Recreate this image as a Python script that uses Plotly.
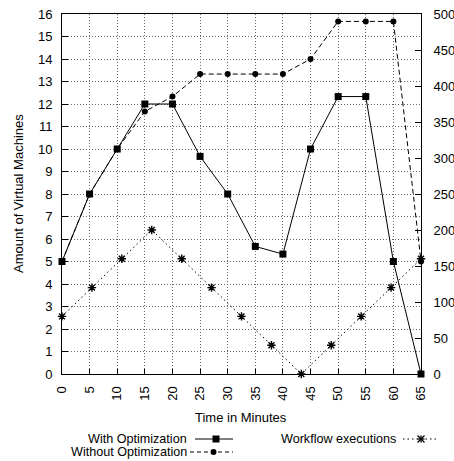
import plotly.graph_objects as go

# ---- data -------------------------------------------------------------
time_min = [0, 5, 10, 15, 20, 25, 30, 35, 40, 45, 50, 55, 60, 65]
vms_with_opt = [5, 8, 10, 12, 12, 9.67, 8, 5.67, 5.33, 10, 12.33, 12.33, 5, 0]
vms_without_opt = [5, 8, 10, 11.67, 12.33, 13.33, 13.33, 13.33, 13.33, 14,
                   15.67, 15.67, 15.67, 5]

workflow_time = [0, 5.42, 10.83, 16.25, 21.67, 27.08, 32.5, 37.92, 43.33,
                 48.75, 54.17, 59.58, 65]
workflow_execs = [80, 120, 160, 200, 160, 120, 80, 40, 0, 40, 80, 120, 160]

x_ticks = list(range(0, 70, 5))
y_ticks = list(range(0, 17))
y2_ticks = list(range(0, 550, 50))

# ---- geometry ---------------------------------------------------------
FIG_W, FIG_H = 454, 461
ML, MR, MT, MB = 62, 33, 14, 87
PW = FIG_W - ML - MR
PH = FIG_H - MT - MB

FONT = "Liberation Sans, Arial, Helvetica, sans-serif"


def px(x):
    return (x - ML) / PW


def py(y):
    return (FIG_H - MB - y) / PH


fig = go.Figure()

fig.add_trace(go.Scatter(
    x=time_min, y=vms_with_opt, name="With Optimization",
    mode="lines+markers", cliponaxis=False,
    line=dict(color="black", width=1),
    marker=dict(symbol="square", size=7, color="black"),
))
fig.add_trace(go.Scatter(
    x=time_min, y=vms_without_opt, name="Without Optimization",
    mode="lines+markers", cliponaxis=False,
    line=dict(color="black", width=1, dash="5px,3px"),
    marker=dict(symbol="circle", size=6, color="black"),
))
fig.add_trace(go.Scatter(
    x=workflow_time, y=workflow_execs, name="Workflow executions",
    yaxis="y2", mode="lines+markers", cliponaxis=False,
    line=dict(color="black", width=1, dash="1.5px,3px"),
    marker=dict(symbol="asterisk-open", size=7,
                line=dict(color="black", width=1.4)),
))

grid = dict(showgrid=True, gridcolor="#666", gridwidth=1, griddash="1px,2px")

fig.update_layout(
    width=FIG_W, height=FIG_H,
    margin=dict(l=ML, r=MR, t=MT, b=MB, autoexpand=False),
    paper_bgcolor="white", plot_bgcolor="white",
    font=dict(family=FONT, size=13, color="black"),
    showlegend=False,
    xaxis=dict(
        range=[0, 65], tickvals=x_ticks, ticktext=[str(v) for v in x_ticks],
        tickangle=-90, ticks="inside", ticklen=5, tickcolor="black",
        ticklabelstandoff=6,
        showline=True, linecolor="black", linewidth=1, mirror=True,
        zeroline=False, **grid,
    ),
    yaxis=dict(
        range=[0, 16], tickvals=y_ticks, ticks="inside", ticklen=6,
        tickcolor="black", ticklabelstandoff=6,
        showline=True, linecolor="black", linewidth=1,
        zeroline=False, **grid,
    ),
    yaxis2=dict(
        range=[0, 500], tickvals=y2_ticks, overlaying="y", side="right",
        ticks="inside", ticklen=6, tickcolor="black", ticklabelstandoff=9,
        showline=True, linecolor="black", linewidth=1,
        showgrid=False, zeroline=False,
    ),
)

# axis titles
fig.add_annotation(text="Amount of Virtual Machines", textangle=-90,
                   xref="paper", yref="paper", x=px(18), y=py(194),
                   showarrow=False, xanchor="center", yanchor="middle")
fig.add_annotation(text="Time in Minutes",
                   xref="paper", yref="paper", x=px(241), y=py(417),
                   showarrow=False, xanchor="center", yanchor="middle")

# key below the chart: label on the left, line sample on the right
key_rows = [
    ("With Optimization", 188, 439, 195, 233, "solid", "square"),
    ("Without Optimization", 188, 452, 190, 233, "dash", "circle"),
    ("Workflow executions", 397, 439, 403, 439, "dot", "asterisk"),
]
for label, tx, ty, x0, x1, dash, mark in key_rows:
    fig.add_annotation(text=label, xref="paper", yref="paper",
                       x=px(tx), y=py(ty), showarrow=False,
                       xanchor="right", yanchor="middle", borderpad=0,
                       font=dict(size=12.6))
    fig.add_shape(type="line", xref="paper", yref="paper",
                  x0=px(x0), x1=px(x1), y0=py(ty), y1=py(ty),
                  line=dict(color="black", width=1,
                            dash={"solid": "solid", "dash": "4px,3px",
                                  "dot": "1.5px,3px"}[dash]))
    cx = (x0 + x1) / 2 + (2 if mark != "asterisk" else 0)
    if mark == "square":
        fig.add_shape(type="rect", xref="paper", yref="paper",
                      x0=px(cx - 3.5), x1=px(cx + 3.5),
                      y0=py(ty - 3.5), y1=py(ty + 3.5),
                      fillcolor="black", line=dict(width=0))
    elif mark == "circle":
        fig.add_shape(type="circle", xref="paper", yref="paper",
                      x0=px(cx - 3), x1=px(cx + 3),
                      y0=py(ty - 3), y1=py(ty + 3),
                      fillcolor="black", line=dict(width=0))
    else:
        r = 3.5
        for dx, dy in [(r, 0), (0, r), (r, r), (r, -r)]:
            fig.add_shape(type="line", xref="paper", yref="paper",
                          x0=px(cx - dx), x1=px(cx + dx),
                          y0=py(ty - dy), y1=py(ty + dy),
                          line=dict(color="black", width=1.3))

fig.write_html("out.html")
